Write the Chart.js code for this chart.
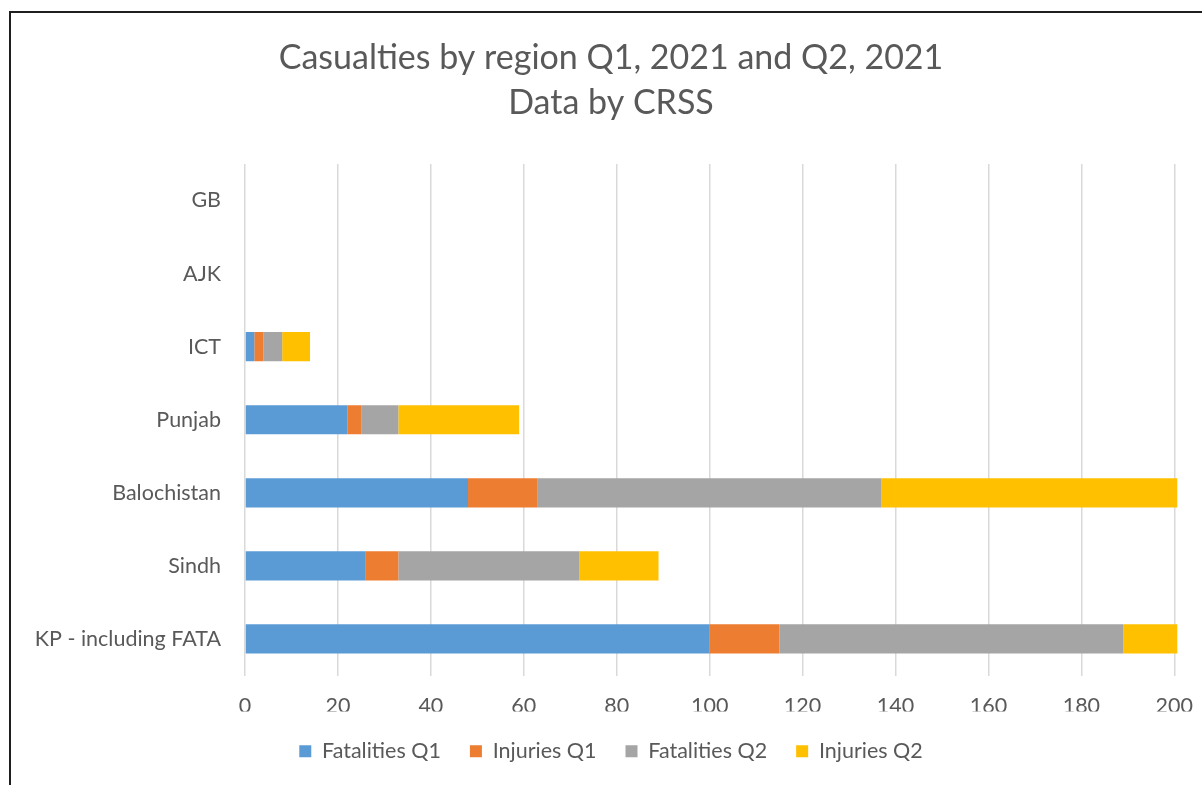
<!DOCTYPE html>
<html>
<head>
<meta charset="utf-8">
<script src="https://cdn.jsdelivr.net/npm/chart.js@4/dist/chart.umd.min.js"></script>
<style>
  html, body { margin: 0; padding: 0; background: #fff; overflow: hidden; width: 1202px; height: 785px; }
  #frame { position: absolute; left: 9px; top: 11px; width: 1400px; height: 900px;
           border-left: 2px solid #1f1f1f; border-top: 2px solid #1f1f1f; }
  #wrap { position: absolute; left: 11px; top: 13px; width: 1200px; height: 772px; }
</style>
</head>
<body>
<div id="frame"></div>
<div id="wrap"><canvas id="chart"></canvas></div>
<script>
const regions = ['GB', 'AJK', 'ICT', 'Punjab', 'Balochistan', 'Sindh', 'KP - including FATA'];

const fatalitiesQ1 = [0, 0, 2, 22, 48, 26, 100];
const injuriesQ1   = [0, 0, 2, 3, 15, 7, 15];
const fatalitiesQ2 = [0, 0, 4, 8, 74, 39, 74];
const injuriesQ2   = [0, 0, 6, 26, 70, 17, 14];

const COLORS = {
  'Fatalities Q1': '#5B9BD5',
  'Injuries Q1': '#ED7D31',
  'Fatalities Q2': '#A5A5A5',
  'Injuries Q2': '#FFC000',
};

const TEXT = '#595959';
const FONT = 'Lato';
const SIZE = 21.5;

const series = [
  ['Fatalities Q1', fatalitiesQ1],
  ['Injuries Q1', injuriesQ1],
  ['Fatalities Q2', fatalitiesQ2],
  ['Injuries Q2', injuriesQ2],
];

const datasets = series.map(([name, values]) => ({
  label: name,
  data: values,
  backgroundColor: COLORS[name],
  borderWidth: 0,
  barPercentage: 0.4,
  categoryPercentage: 1,
  xAxisID: 'x',
  yAxisID: 'y',
  clip: 3,
}));

const chartConfig = {
  type: 'bar',
  data: {
    labels: regions,
    datasets: datasets,
  },
  options: {
    indexAxis: 'y',
    responsive: true,
    maintainAspectRatio: false,
    animation: false,
    layout: { padding: { bottom: 13 } },
    scales: {
      x: {
        stacked: true,
        min: 0,
        max: 200,
        ticks: { stepSize: 20, color: TEXT, font: { family: FONT, size: SIZE }, padding: 18 },
        grid: { color: '#d9d9d9', lineWidth: 1.5, drawTicks: false },
        border: { display: false },
        afterFit: s => { s.height = 36; },
      },
      y: {
        stacked: true,
        ticks: { color: TEXT, font: { family: FONT, size: SIZE }, padding: 24 },
        grid: { display: false, drawTicks: false },
        border: { display: false },
        afterFit: s => { s.width = 234; },
      },
      // empty right-hand axis only to leave the right margin
      yRight: {
        type: 'linear',
        position: 'right',
        ticks: { display: false },
        grid: { display: false, drawTicks: false },
        border: { display: false },
        afterFit: s => { s.width = 35; },
      },
    },
    plugins: {
      title: {
        display: true,
        text: ['Casualties by region Q1, 2021 and Q2, 2021', 'Data by CRSS'],
        color: TEXT,
        font: { family: FONT, size: 34, weight: 'normal', lineHeight: 45 / 34 },
        padding: { top: 23, bottom: 38 },
      },
      legend: {
        position: 'bottom',
        labels: {
          color: TEXT,
          font: { family: FONT, size: SIZE },
          boxWidth: 12,
          boxHeight: 12,
          padding: 29,
        },
      },
      tooltip: { enabled: false },
    },
  },
};

new Chart(document.getElementById('chart'), chartConfig);
</script>
</body>
</html>
